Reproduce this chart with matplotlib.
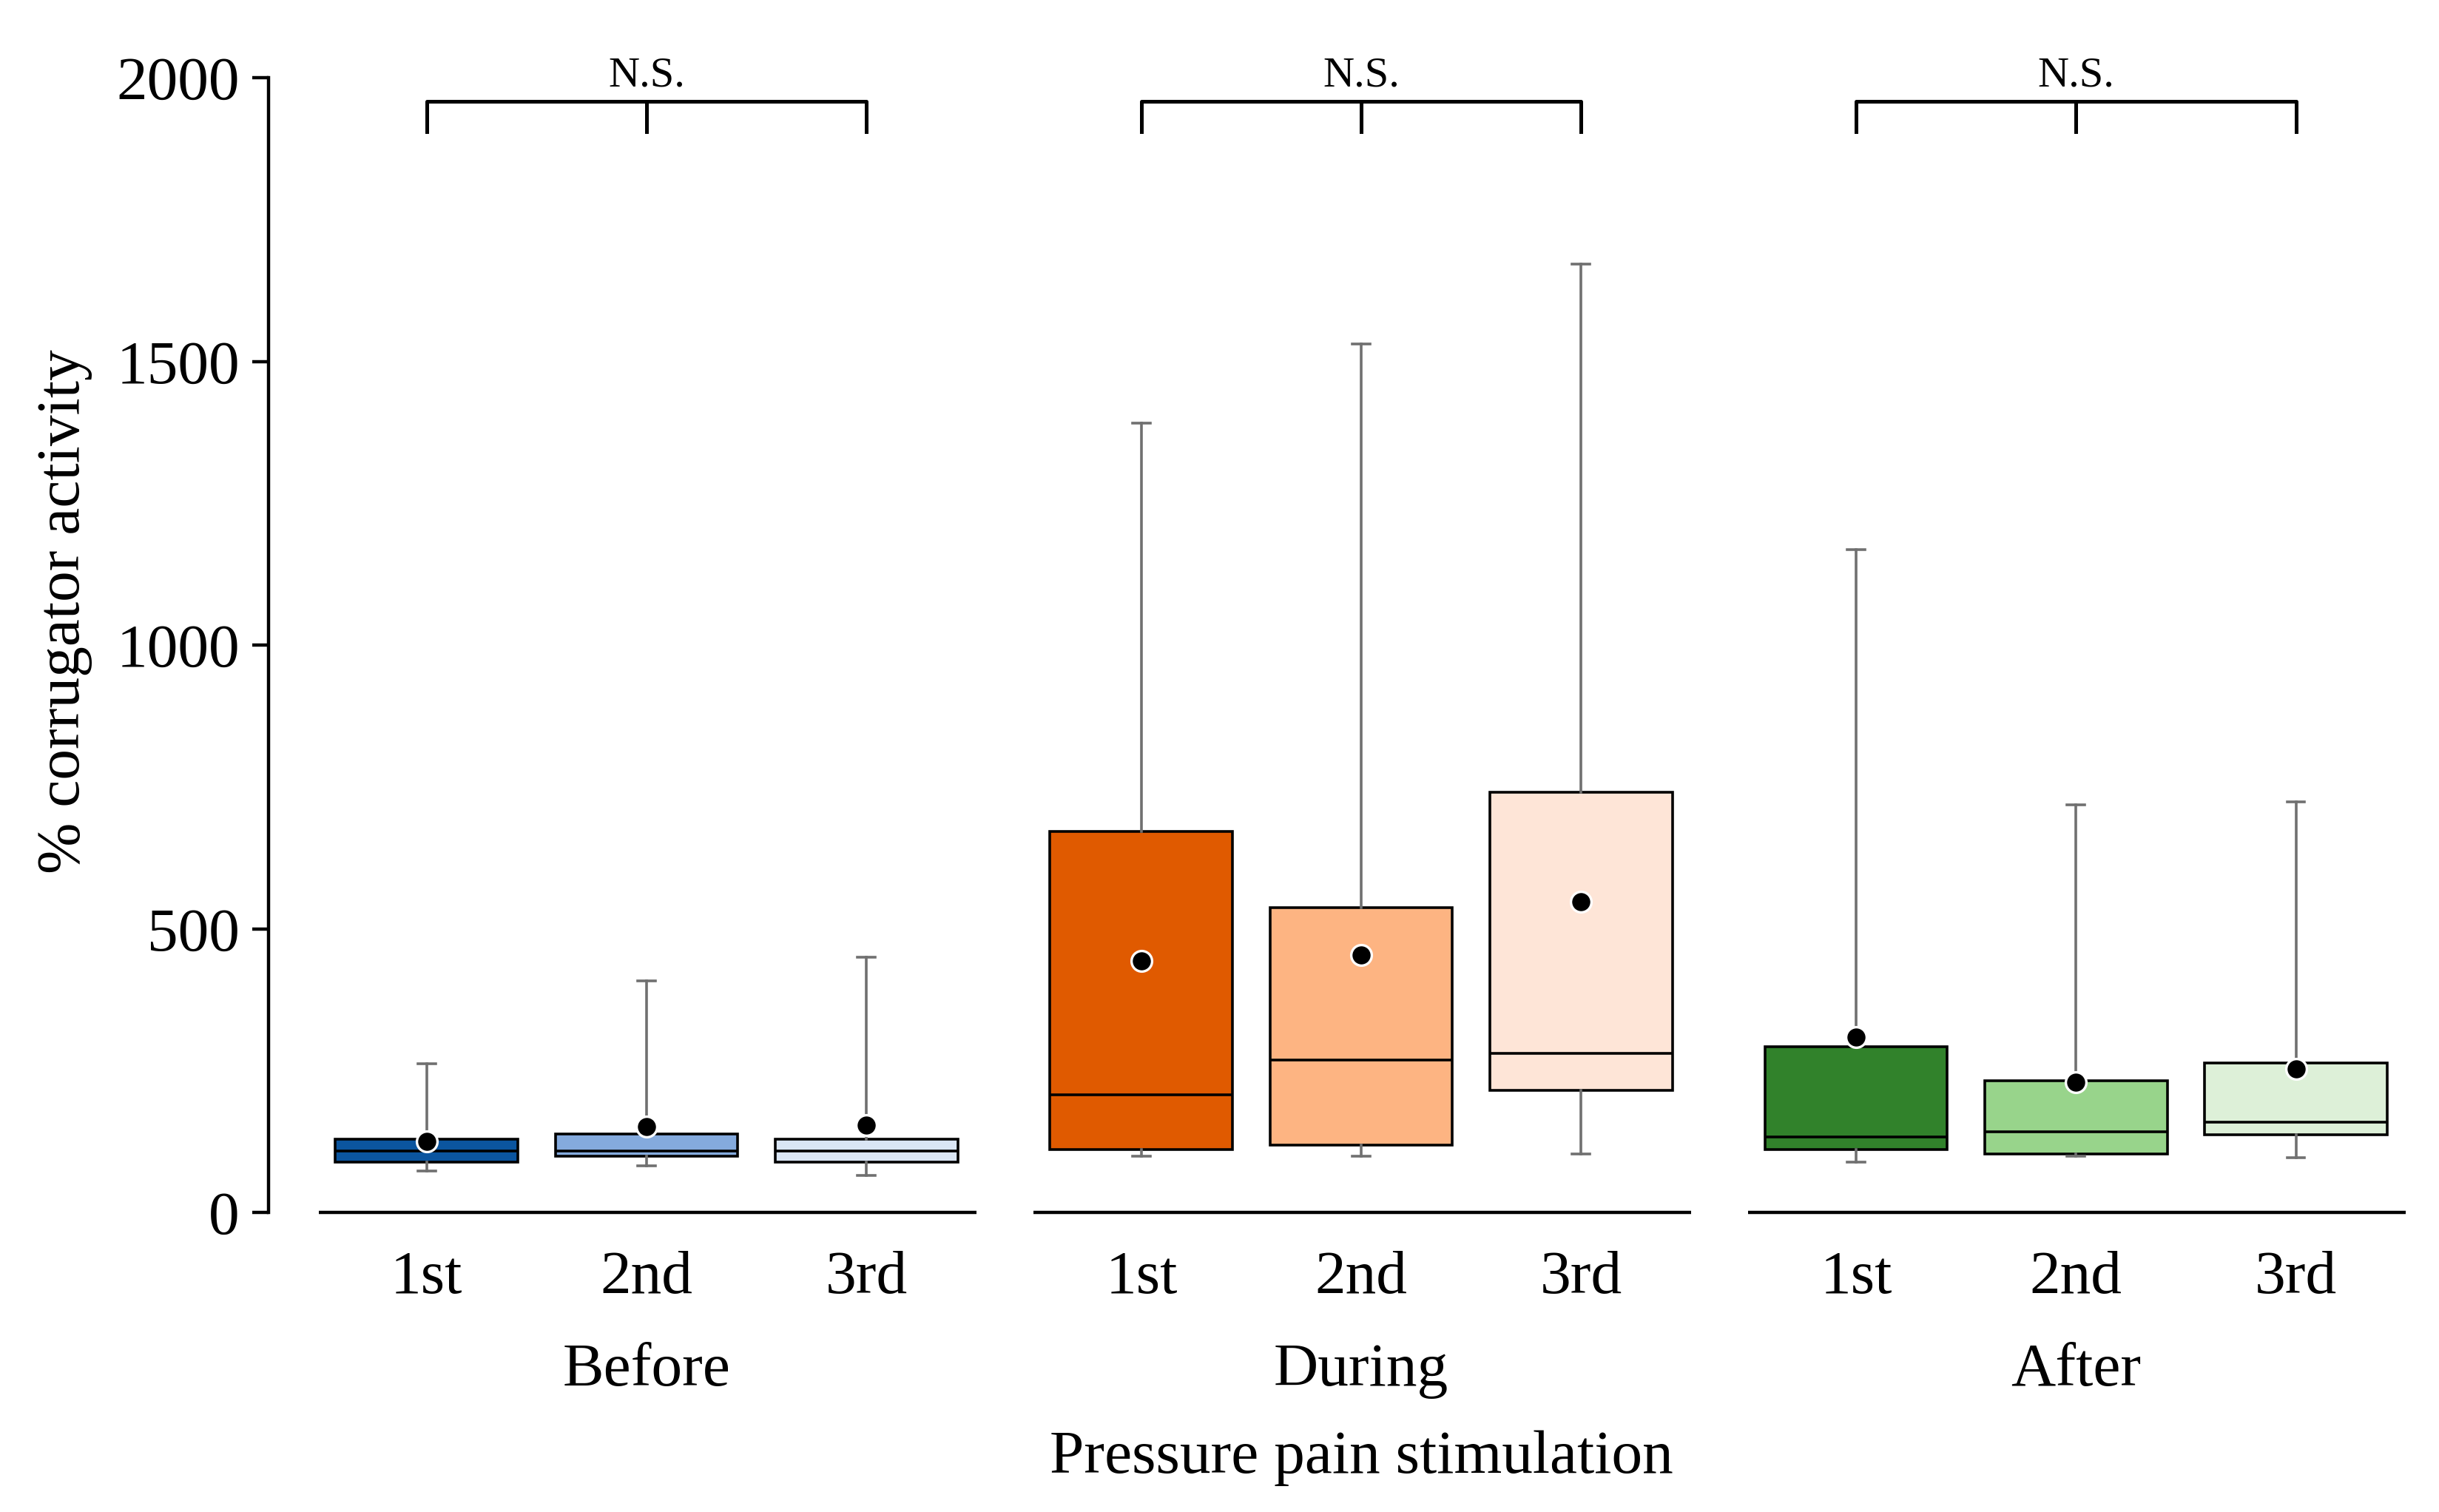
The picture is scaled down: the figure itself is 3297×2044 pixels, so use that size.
import matplotlib
matplotlib.use("Agg")
import matplotlib.pyplot as plt
import matplotlib.transforms as mtransforms

plt.rcParams['font.family'] = ['Liberation Serif', 'DejaVu Serif']

# ---- data ----
groups = ["Before", "During", "After"]
sessions = ["1st", "2nd", "3rd"]

whislo = [73, 82, 65, 100, 100, 103, 89, 99, 97]
q1     = [89, 100, 89, 111, 119, 215, 111, 103, 137]
med    = [109, 108, 109, 207, 269, 281, 133, 143, 160]
q3     = [129, 138, 129, 672, 537, 741, 292, 233, 264]
whishi = [263, 409, 450, 1391, 1531, 1672, 1169, 719, 724]
means  = [125, 151, 154, 444, 454, 548, 309, 230, 253]

colors = ["#0b559f", "#84aadd", "#dae6f5",
          "#e05a00", "#fdb482", "#fee5d7",
          "#31822b", "#98d48b", "#ddf0d8"]

positions = [0, 1, 2, 3.25, 4.25, 5.25, 6.5, 7.5, 8.5]

fig = plt.figure(figsize=(16.485, 10.22), dpi=200)
ax = fig.add_axes([0.110, 0.198, 0.880, 0.7506])

stats = []
for i in range(len(positions)):
    stats.append(dict(whislo=whislo[i], q1=q1[i], med=med[i], q3=q3[i],
                      whishi=whishi[i], mean=means[i], fliers=[]))

bp = ax.bxp(stats, positions=positions, widths=0.83, patch_artist=True,
            showmeans=True, showfliers=False,
            boxprops=dict(edgecolor="black", linewidth=1.3),
            medianprops=dict(color="black", linewidth=1.3),
            whiskerprops=dict(color="#707070", linewidth=1.3),
            capprops=dict(color="#707070", linewidth=1.3),
            capwidths=0.08,
            meanprops=dict(marker="o", markerfacecolor="black",
                           markeredgecolor="white", markersize=10,
                           markeredgewidth=1.2))
for patch, c in zip(bp["boxes"], colors):
    patch.set_facecolor(c)

ax.set_xlim(-0.72, 9.04)
ax.set_ylim(0, 2000)

for s in ["top", "right", "bottom"]:
    ax.spines[s].set_visible(False)
ax.spines["left"].set_linewidth(1.6)
ax.set_yticks([0, 500, 1000, 1500, 2000])
ax.tick_params(axis="y", direction="out", length=8, width=1.6, labelsize=30, pad=6)
ax.set_xticks([])

trans = mtransforms.blended_transform_factory(ax.transData, ax.transAxes)

for g in range(3):
    p = positions[g * 3:g * 3 + 3]
    # baseline segment for each group
    ax.plot([p[0] - 0.49, p[2] + 0.5], [0, 0], color="black", lw=1.6,
            clip_on=False, solid_capstyle="butt")
    # session labels
    for k in range(3):
        ax.text(p[k], -0.058, sessions[k], transform=trans, ha="center",
                va="center", fontsize=30)
    ax.text(p[1], -0.1395, groups[g], transform=trans, ha="center",
            va="center", fontsize=30)
    # N.S. bracket
    ax.plot([p[0], p[0], p[2], p[2]], [1905, 1959, 1959, 1905],
            color="black", lw=1.8, clip_on=False)
    ax.plot([p[1], p[1]], [1959, 1905], color="black", lw=1.8, clip_on=False)
    ax.text(p[1], 1985, "N.S.", ha="center", va="baseline", fontsize=21)

ax.text(4.25, -0.2164, "Pressure pain stimulation", transform=trans,
        ha="center", va="center", fontsize=30)
ax.set_ylabel("% corrugator activity", fontsize=30)
ax.yaxis.set_label_coords(-0.082, 0.53)

fig.savefig("out.png", dpi=200)
